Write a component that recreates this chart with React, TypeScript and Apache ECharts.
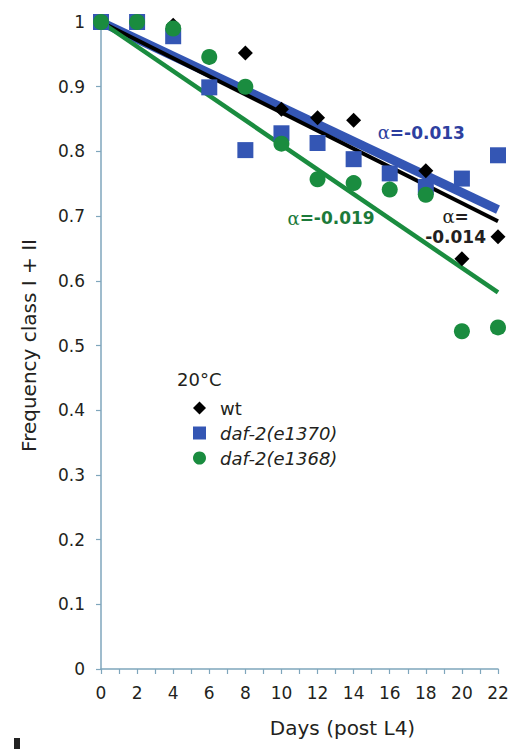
import React, { useEffect, useRef } from "react";
import * as echarts from "echarts";

const days = [0, 2, 4, 6, 8, 10, 12, 14, 16, 18, 20, 22];
const wtValues = [1.0, 1.0, 0.995, 0.945, 0.952, 0.865, 0.852, 0.848, 0.765, 0.77, 0.634, 0.668];
const e1370Values = [1.0, 1.0, 0.978, 0.899, 0.802, 0.828, 0.813, 0.788, 0.766, 0.745, 0.758, 0.794];
const e1368Values = [1.0, 1.0, 0.99, 0.946, 0.9, 0.812, 0.757, 0.751, 0.741, 0.733, 0.522, 0.528];

// fitted lines: [day, value] endpoints
const wtFit = [[0, 1.0], [22, 0.692]];
const e1370Fit = [[0, 1.0], [22, 0.71]];
const e1368Fit = [[0, 1.0], [22, 0.582]];

const yTicks = [0, 0.1, 0.2, 0.3, 0.4, 0.5, 0.6, 0.7, 0.8, 0.9, 1];

const BLUE = "#3456b4";
const GREEN = "#1a8c3f";
const BLACK = "#000000";
const TEXT = "#231f20";
const AXIS = "#7fa6bc";
const FONT = "DejaVu Sans";

export default function App() {
  const ref = useRef<HTMLDivElement>(null);
  useEffect(() => {
    if (!ref.current) return;
    const chart = echarts.init(ref.current, null, { renderer: "svg" });
    const pts = (vals: number[]) => days.map((d, i) => [d, vals[i]]);
    chart.setOption({
      animation: false,
      backgroundColor: "#ffffff",
      grid: { left: 101, right: 16, top: 22, bottom: 80, containLabel: false },
      xAxis: {
        type: "value",
        min: 0,
        max: 22,
        interval: 2,
        name: "Days (post L4)",
        nameLocation: "middle",
        nameGap: 49,
        nameTextStyle: { fontFamily: FONT, fontSize: 20, color: TEXT, padding: [0, 0, 0, 86] },
        axisLine: { show: true, lineStyle: { color: AXIS, width: 1.5 } },
        axisTick: { show: true, length: 5, lineStyle: { color: AXIS, width: 1.2 } },
        minorTick: { show: true, splitNumber: 2, length: 5, lineStyle: { color: AXIS, width: 1.2 } },
        splitLine: { show: false },
        axisLabel: { fontFamily: FONT, fontSize: 17, color: TEXT, margin: 15 },
      },
      yAxis: {
        type: "value",
        min: 0,
        max: 1,
        interval: 0.1,
        name: "Frequency class I + II",
        nameLocation: "middle",
        nameGap: 62,
        nameTextStyle: { fontFamily: FONT, fontSize: 20, color: TEXT },
        axisLine: { show: true, lineStyle: { color: AXIS, width: 1.5 } },
        axisTick: { show: true, length: 5, lineStyle: { color: AXIS, width: 1.2 } },
        splitLine: { show: false },
        axisLabel: {
          fontFamily: FONT,
          fontSize: 17,
          color: TEXT,
          margin: 16,
          formatter: (v: number) => {
            const r = Math.round(v * 10) / 10;
            const t = yTicks.find((y) => Math.abs(y - r) < 1e-6);
            if (t === 0) return "0";
            if (t === 1) return "1";
            return r.toFixed(1);
          },
        },
      },
      legend: {
        orient: "vertical",
        left: 188,
        top: 394,
        itemWidth: 13,
        itemHeight: 13,
        itemGap: 7,
        textStyle: { fontFamily: FONT, fontSize: 18, color: TEXT, padding: [0, 0, 0, 9] },
        data: [
          { name: "wt", icon: "diamond" },
          { name: "daf-2(e1370)", icon: "rect", textStyle: { fontStyle: "italic" } },
          { name: "daf-2(e1368)", icon: "circle", textStyle: { fontStyle: "italic" } },
        ],
      },
      graphic: [
        {
          type: "text",
          left: 177,
          top: 370,
          style: { text: "20°C", fontFamily: FONT, fontSize: 18, fill: TEXT },
        },
        {
          type: "rect",
          shape: { x: 14, y: 738, width: 6, height: 11 },
          style: { fill: "#222" },
        },
      ],
      series: [
        {
          type: "line",
          name: "fit-e1370",
          data: e1370Fit,
          symbol: "none",
          lineStyle: { color: BLUE, width: 9 },
          z: 1,
          silent: true,
        },
        {
          type: "line",
          name: "fit-wt",
          data: wtFit,
          symbol: "none",
          lineStyle: { color: BLACK, width: 4 },
          z: 2,
          silent: true,
        },
        {
          type: "line",
          name: "fit-e1368",
          data: e1368Fit,
          symbol: "none",
          lineStyle: { color: GREEN, width: 4.5 },
          z: 2,
          silent: true,
        },
        {
          type: "scatter",
          name: "wt",
          data: pts(wtValues),
          symbol: "diamond",
          symbolSize: 15,
          itemStyle: { color: BLACK, opacity: 1 },
          z: 3,
        },
        {
          type: "scatter",
          name: "daf-2(e1370)",
          data: pts(e1370Values),
          symbol: "rect",
          symbolSize: 16,
          itemStyle: { color: BLUE, opacity: 1 },
          z: 4,
        },
        {
          type: "scatter",
          name: "daf-2(e1368)",
          data: pts(e1368Values),
          symbol: "circle",
          symbolSize: 16,
          itemStyle: { color: GREEN, opacity: 1 },
          z: 5,
        },
        {
          type: "scatter",
          name: "labels",
          data: [],
          silent: true,
          markPoint: {
            symbol: "circle",
            symbolSize: 0,
            data: [
              {
                coord: [17.75, 0.829],
                label: {
                  show: true,
                  formatter: "{a|α}{b|=-0.013}",
                  rich: {
                    a: { fontFamily: "DejaVu Serif", fontSize: 18, color: "#2e3f9f" },
                    b: { fontFamily: FONT, fontSize: 17, fontWeight: "bold", color: "#2e3f9f" },
                  },
                },
              },
              {
                coord: [12.75, 0.697],
                label: {
                  show: true,
                  formatter: "{a|α}{b|=-0.019}",
                  rich: {
                    a: { fontFamily: "DejaVu Serif", fontSize: 18, color: "#1c7a3a" },
                    b: { fontFamily: FONT, fontSize: 17, fontWeight: "bold", color: "#1c7a3a" },
                  },
                },
              },
              {
                coord: [19.65, 0.699],
                label: {
                  show: true,
                  formatter: "{a|α}{b|=}",
                  rich: {
                    a: { fontFamily: "DejaVu Serif", fontSize: 18, color: TEXT },
                    b: { fontFamily: FONT, fontSize: 17, fontWeight: "bold", color: TEXT },
                  },
                },
              },
              {
                coord: [19.65, 0.668],
                label: {
                  show: true,
                  formatter: "{b|-0.014}",
                  rich: {
                    b: { fontFamily: FONT, fontSize: 17, fontWeight: "bold", color: TEXT },
                  },
                },
              },
            ],
          },
        },
      ],
    });
    return () => chart.dispose();
  }, []);
  return (
    <div
      ref={ref}
      style={{ position: "fixed", left: 0, top: 0, width: 514, height: 749, background: "#fff" }}
    />
  );
}
